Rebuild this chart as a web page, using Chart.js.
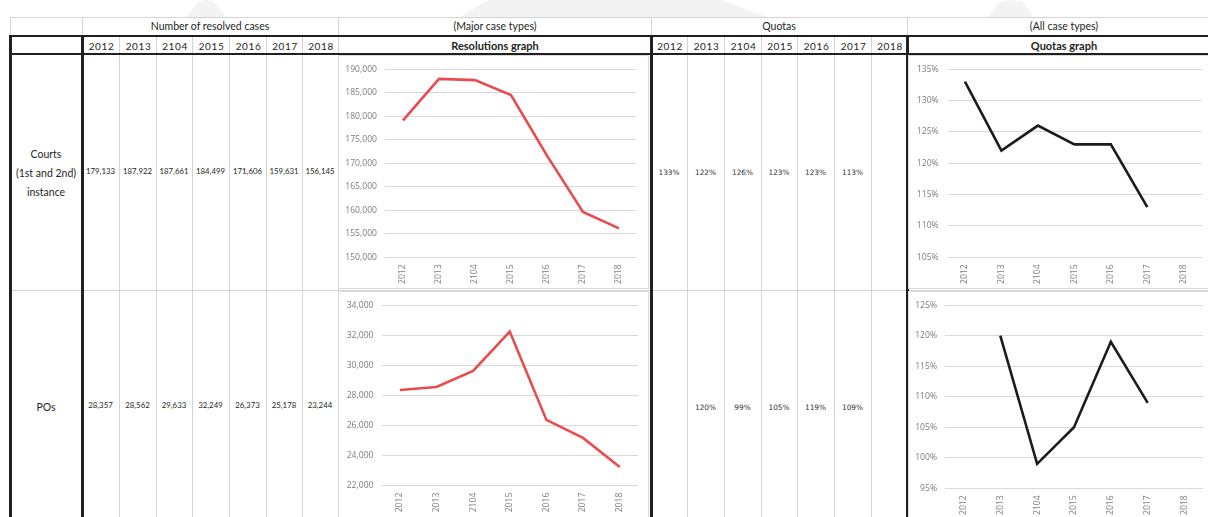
<!DOCTYPE html>
<html>
<head>
<meta charset="utf-8">
<script src="https://cdn.jsdelivr.net/npm/chart.js@4.4.1/dist/chart.umd.min.js"></script>
<style>
  body { margin: 0; background: #fff; width: 1208px; height: 517px; overflow: hidden; position: relative; font-family: Lato, "Open Sans", sans-serif; color: #231f20; }
  .ln { position: absolute; }
  .tx { position: absolute; white-space: nowrap; transform: translate(-50%, -50%); line-height: 1; }
  .box { position: absolute; border: 1px solid #d9d9d9; box-sizing: border-box; background: #fff; }
  .wm { position: absolute; background: #f3f3f3; }
  canvas { position: absolute; }
</style>
</head>
<body>
<div class="wm" style="left:186px;top:0;width:40px;height:17px;clip-path:polygon(0 100%,30% 10%,50% 0,70% 10%,100% 100%)"></div>
<div class="wm" style="left:460px;top:0;width:307px;height:17px;clip-path:polygon(0 100%,9% 0,85% 0,100% 100%)"></div>
<div class="wm" style="left:988px;top:0;width:46px;height:17px;clip-path:polygon(0 100%,25% 10%,50% 0,75% 10%,100% 100%)"></div>

<div id="table"></div>

<div class="box" style="left:338px;top:55px;width:311px;height:234px"></div>
<div class="box" style="left:338px;top:291px;width:311px;height:230px"></div>
<div class="box" style="left:908px;top:55px;width:302px;height:234px"></div>
<div class="box" style="left:908px;top:291px;width:302px;height:230px"></div>

<canvas id="resCourts" width="309" height="232" style="left:339px;top:56px"></canvas>
<canvas id="resPos" width="309" height="225" style="left:339px;top:292px"></canvas>
<canvas id="quotaCourts" width="299" height="232" style="left:909px;top:56px"></canvas>
<canvas id="quotaPos" width="299" height="225" style="left:909px;top:292px"></canvas>

<script>
// data
const years = ['2012', '2013', '2104', '2015', '2016', '2017', '2018'];
const courtsResolved = [179133, 187922, 187661, 184499, 171606, 159631, 156145];
const posResolved = [28357, 28562, 29633, 32249, 26373, 25178, 23244];
const courtsQuota = [133, 122, 126, 123, 123, 113, null];
const posQuota = [null, 120, 99, 105, 119, 109, null];
const rowLabels = [['Courts', '(1st and 2nd)', 'instance'], ['POs']];
const topHeaders = ['Number of resolved cases', '(Major case types)', 'Quotas', '(All case types)'];
const graphHeaders = ['Resolutions graph', 'Quotas graph'];

// axis ranges [min, max, step]
const resCourtsAxis = [150000, 190000, 5000];
const resPosAxis = [22000, 34000, 2000];
const quotaCourtsAxis = [105, 135, 5];
const quotaPosAxis = [95, 125, 5];

// ---- table ----
const tbl = document.getElementById('table');
const DARK = '#231f20', GRID = '#d4d4d4';

function hline(x1, x2, y, w, c) {
  const d = document.createElement('div');
  d.className = 'ln';
  d.style.cssText = `left:${x1}px;top:${y - w / 2}px;width:${x2 - x1}px;height:${w}px;background:${c}`;
  tbl.appendChild(d);
}
function vline(x, y1, y2, w, c) {
  const d = document.createElement('div');
  d.className = 'ln';
  d.style.cssText = `left:${x - w / 2}px;top:${y1}px;width:${w}px;height:${y2 - y1}px;background:${c}`;
  tbl.appendChild(d);
}
function text(x, y, s, css) {
  const d = document.createElement('div');
  d.className = 'tx';
  d.textContent = s;
  d.style.cssText = `left:${x}px;top:${y}px;` + (css || '');
  tbl.appendChild(d);
}

const resCols = [82, 119, 156, 192, 229, 266, 302, 338];
const quotaCols = [651, 687, 724, 761, 797, 834, 871, 907];

// horizontal rules
hline(10, 1208, 17, 1, GRID);
hline(10, 1208, 290, 1, GRID);
// header row 1 separators
[10, 82, 338, 651, 907].forEach(x => vline(x, 17, 36, 1, GRID));
// thin column lines
resCols.slice(1).forEach(x => vline(x, 36, 517, 1, GRID));
quotaCols.slice(1, -1).forEach(x => vline(x, 36, 517, 1, GRID));
// thick rules
hline(10, 1208, 35.5, 2, DARK);
hline(10, 1208, 54, 2, DARK);
[10, 82, 651, 907].forEach(x => vline(x, 34.5, 517, 3, DARK));

// header texts
const hdrFont = 'font-size:10.5px;';
text(210, 26, topHeaders[0], hdrFont);
text(495, 26, topHeaders[1], hdrFont);
text(779, 26, topHeaders[2], hdrFont);
text(1064, 26, topHeaders[3], hdrFont);
text(495, 45, graphHeaders[0], 'font-size:11px;font-weight:bold;');
text(1064, 45, graphHeaders[1], 'font-size:11px;font-weight:bold;');
years.forEach((y, i) => {
  text((resCols[i] + resCols[i + 1]) / 2 + 1, 45.5, y, 'font-size:10px;letter-spacing:0.6px;');
  text((quotaCols[i] + quotaCols[i + 1]) / 2 + 1, 45.5, y, 'font-size:10px;letter-spacing:0.6px;');
});

// row labels
rowLabels[0].forEach((s, i) => text(46, 154 + i * 19, s, 'font-size:10.5px;'));
text(46, 407, rowLabels[1][0], 'font-size:10.5px;');

// values
const fmtNum = v => v.toLocaleString('en-US');
const numCss = 'font-size:7.8px;';
const pctCss = 'font-family:"DejaVu Sans",sans-serif;font-size:7.4px;color:#333;';
courtsResolved.forEach((v, i) => text((resCols[i] + resCols[i + 1]) / 2, 172, fmtNum(v), numCss));
posResolved.forEach((v, i) => text((resCols[i] + resCols[i + 1]) / 2, 406, fmtNum(v), numCss));
courtsQuota.forEach((v, i) => { if (v !== null) text((quotaCols[i] + quotaCols[i + 1]) / 2, 173, v + '%', pctCss); });
posQuota.forEach((v, i) => { if (v !== null) text((quotaCols[i] + quotaCols[i + 1]) / 2, 408, v + '%', pctCss); });

// ---- charts ----
const TICK = '#7d7d7d';

function lineChart(id, values, color, axis, fmt, yWidth, xHeight, padTop, padRight) {
  const ctx = document.getElementById(id).getContext('2d');
  return new Chart(ctx, {
    type: 'line',
    data: {
      labels: years,
      datasets: [{
        data: values,
        borderColor: color,
        borderWidth: 2.6,
        pointRadius: 0,
        tension: 0,
        spanGaps: false,
        fill: false
      }]
    },
    options: {
      responsive: false,
      animation: false,
      devicePixelRatio: 1,
      layout: { padding: { top: padTop, right: padRight, left: 0, bottom: 0 } },
      plugins: { legend: { display: false }, tooltip: { enabled: false } },
      scales: {
        x: {
          offset: true,
          grid: { display: false, drawTicks: false },
          border: { display: false },
          ticks: {
            color: TICK, font: { family: 'Open Sans', size: 8.6 },
            minRotation: 90, maxRotation: 90, autoSkip: false, padding: 7
          },
          afterFit: s => { s.height = xHeight; }
        },
        y: {
          min: axis[0], max: axis[1],
          grid: { color: '#d9d9d9', lineWidth: 1, drawTicks: false },
          border: { display: false },
          ticks: {
            stepSize: axis[2], color: TICK, font: { family: 'Open Sans', size: 8.6 },
            padding: 8, callback: fmt
          },
          afterFit: s => { s.width = yWidth; }
        }
      }
    }
  });
}

const fmtAxisNum = v => v.toLocaleString('en-US');
const fmtAxisPct = v => v + '%';

lineChart('resCourts', courtsResolved, '#e84c4e', resCourtsAxis, fmtAxisNum, 46, 30.7, 12.3, 11);
lineChart('resPos', posResolved, '#e84c4e', resPosAxis, fmtAxisNum, 42.5, 31.3, 12.3, 10);
lineChart('quotaCourts', courtsQuota, '#1c1c1c', quotaCourtsAxis, fmtAxisPct, 37.7, 30.7, 12.3, 6);
lineChart('quotaPos', posQuota, '#1c1c1c', quotaPosAxis, fmtAxisPct, 36, 28.7, 13, 5);
</script>
</body>
</html>
